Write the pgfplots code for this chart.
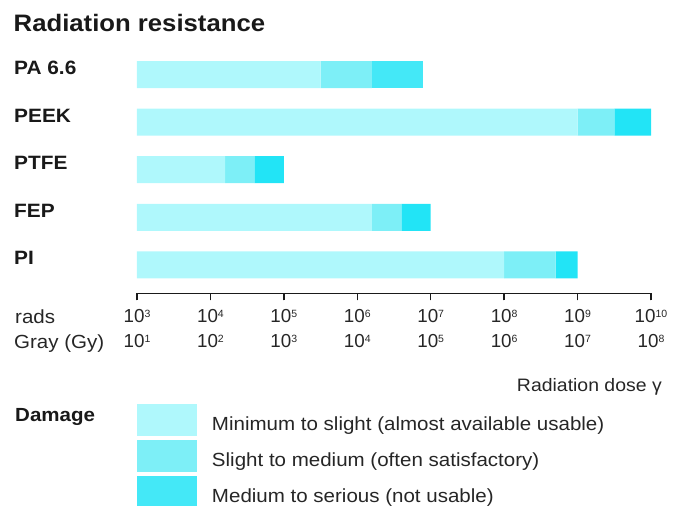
\documentclass[border=0pt]{standalone}
\usepackage{fontspec}
\setmainfont[FakeStretch=1.08]{Liberation Sans}
\newfontfamily\tickfont{Liberation Sans}
\usepackage{pgfplots}
\pgfplotsset{compat=1.18}
\usepackage{pgfplotstable}
\definecolor{c1}{HTML}{AFF8FC}
\definecolor{c2}{HTML}{7DEFF7}
\definecolor{c3}{HTML}{22E4F6}
\definecolor{c4}{HTML}{44E8F7}
\definecolor{axc}{HTML}{1A1A1A}
\newcommand{\tl}[1]{10\raisebox{5.4pt}{\fontsize{10.5}{10.5}\selectfont #1}}
% y: 5 = PA 6.6 (top) ... 1 = PI (bottom); values are log10(dose in rads)
% light = end of first segment, med/dark = widths of following segments
\pgfplotstableread{
y  light  med  darkA  darkB
5  5.5    0.7  0.7    0
4  9.0    0.5  0      0.5
3  4.2    0.4  0      0.4
2  6.2    0.4  0      0.4
1  8.0    0.7  0      0.3
}\dataT
\begin{document}
\begin{tikzpicture}[x=1pt,y=1pt]
\useasboundingbox (0,0) rectangle (673,506);
\begin{axis}[
  at={(137pt,212.5pt)}, anchor=south west,
  scale only axis, width=514pt, height=247.5pt,
  xmin=3, xmax=10, ymin=0.4, ymax=5.6,
  xbar stacked, bar width=27pt,
  axis x line*=bottom, axis y line*=left,
  y axis line style={draw=none}, ytick style={draw=none},
  x axis line style={line width=1.4pt, color=axc},
  xtick={3,4,5,6,7,8,9,10},
  xticklabels={\tl{3},\tl{4},\tl{5},\tl{6},\tl{7},\tl{8},\tl{9},\tl{10}},
  xtick style={line width=1.4pt, color=axc},
  major tick length=7pt, tick align=outside,
  xticklabel style={font=\tickfont\fontsize{18.8}{18.8}\selectfont, anchor=base, yshift=-22.3pt, text=black!85},
  extra x ticks={3,4,5,6,7,8,9,10},
  extra x tick labels={\tl{1},\tl{2},\tl{3},\tl{4},\tl{5},\tl{6},\tl{7},\tl{8}},
  extra x tick style={xticklabel style={yshift=-25pt}},
  ytick={1,2,3,4,5},
  yticklabels={PI,FEP,PTFE,PEEK,PA 6.6},
  yticklabel style={font=\bfseries\fontsize{19.3}{19.3}\selectfont, anchor=base west, inner sep=0pt, xshift=-116pt, text=black!90},
  legend cell align=left,
  legend style={at={(axis description cs:0,-0.4477)}, anchor=north west,
    draw=none, fill=none, inner sep=0pt, outer sep=0pt,
    font=\fontsize{19}{19}\selectfont, row sep=4pt, column sep=15pt,
    cells={anchor=base west}, nodes={inner sep=0pt, text=black!85}},
  legend image code/.code={\path (0pt,-6pt) rectangle (60pt,26pt);
    \path[#1] (0pt,-0.5pt) rectangle (60pt,26pt);},
]
\addplot[fill=c1, draw=none] table[x=light, y=y] {\dataT};
\addplot[fill=c2, draw=none] table[x=med, y=y] {\dataT};
\addplot[fill=c4, draw=none] table[x=darkA, y=y] {\dataT};
\addplot[fill=c3, draw=none] table[x=darkB, y=y] {\dataT};
\legend{Minimum to slight (almost available usable),Slight to medium (often satisfactory),Medium to serious (not usable)}
\end{axis}
\node[anchor=base west, inner sep=0pt, text=black!90, font=\bfseries\fontsize{23.8}{23.8}\selectfont] at (13.5,474.3) {Radiation resistance};
\node[anchor=base west, inner sep=0pt, text=black!85, font=\fontsize{19}{19}\selectfont] at (15,182.7) {rads};
\node[anchor=base west, inner sep=0pt, text=black!85, font=\fontsize{19}{19}\selectfont] at (14,157.7) {Gray (Gy)};
\node[anchor=base east, inner sep=0pt, text=black!85, font=\fontsize{18}{18}\selectfont] at (662,114.5) {Radiation dose γ};
\node[anchor=base west, inner sep=0pt, text=black!90, font=\bfseries\fontsize{19}{19}\selectfont] at (15,84.3) {Damage};
\end{tikzpicture}
\end{document}
